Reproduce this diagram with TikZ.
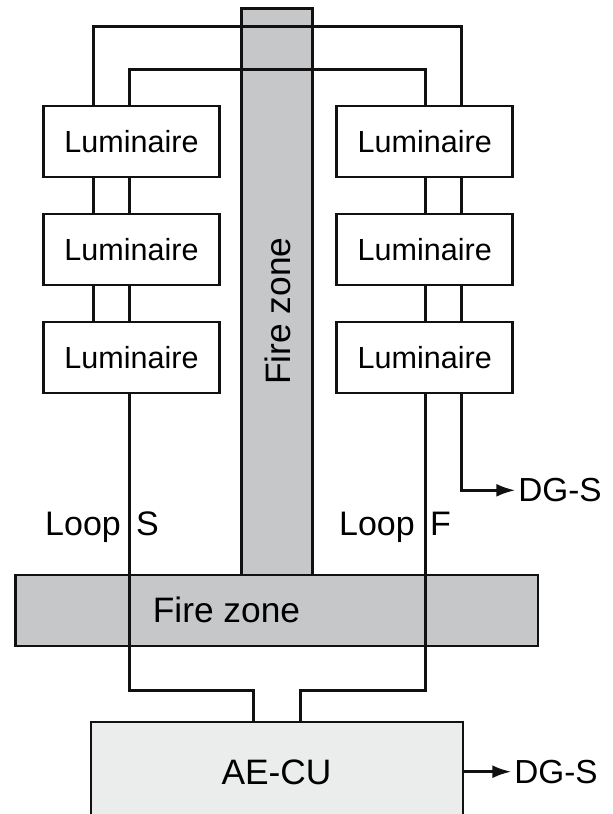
\documentclass[tikz,border=0pt]{standalone}
\usepackage{fontspec}
\setmainfont{Liberation Sans}
\usepackage{xcolor}
\usetikzlibrary{arrows.meta}
\definecolor{zonegray}{HTML}{C6C7C9}
\definecolor{cugray}{HTML}{EBEDEC}
\definecolor{wire}{HTML}{111111}

\begin{document}
\begin{tikzpicture}[
    x=0.75pt,y=-0.75pt,
    lum/.style={draw=wire, line width=2pt, fill=white, minimum width=132pt, minimum height=53.25pt, inner sep=0pt, font=\fontsize{22.9}{27}\selectfont},
    zone/.style={draw=wire, line width=2pt, fill=zonegray, inner sep=0pt},
    lab/.style={font=\fontsize{26.5}{30}\selectfont, inner sep=0pt, text=black},
    loop/.style={font=\fontsize{25.5}{30}\selectfont, inner sep=0pt, text=black, anchor=base},
    dg/.style={font=\fontsize{25}{30}\selectfont, inner sep=0pt, text=black, anchor=west},
    w/.style={draw=wire, line width=2pt},
    a/.style={w, -{Latex[length=5mm,width=3.4mm]}}
]
\useasboundingbox (0,0) rectangle (613,814);

% Fire zones
\node[zone, minimum width=53.5pt, minimum height=425pt] (zoneV) at (277,291.5) {};
\node[zone, minimum width=392pt, minimum height=53.25pt] (zoneH) at (276.5,610.5) {};
\node[lab, rotate=90, anchor=base] (zoneVt) at (290,311) {Fire zone};
\node[lab, anchor=base] (zoneHt) at (226.5,622) {Fire zone};

% Left column
\node[lum] (lumLa) at (131.5,141.5) {Luminaire};
\node[lum] (lumLb) at (131.5,249.5) {Luminaire};
\node[lum] (lumLc) at (131.5,357.5) {Luminaire};

% Right column
\node[lum] (lumRa) at (424.75,141.5) {Luminaire};
\node[lum] (lumRb) at (424.75,249.5) {Luminaire};
\node[lum] (lumRc) at (424.75,357.5) {Luminaire};

% Control unit
\node[draw=wire, line width=2pt, fill=cugray, minimum width=279pt, minimum height=82.5pt, inner sep=0pt] (cu) at (277,777) {};
\node[lab, anchor=base] (cut) at (276.5,784) {AE-CU};

% Wire corners
\coordinate (outL) at (93.7,26.7);
\coordinate (outR) at (461.3,26.7);
\coordinate (innL) at (129.7,69.5);
\coordinate (innR) at (425.3,69.5);
\coordinate (botL) at (129.7,690.3);
\coordinate (botR) at (425.3,690.3);
\coordinate (cuL) at (253.3,690.3);
\coordinate (cuR) at (300.3,690.3);

% Labels
\node[loop] (loopS) at (102,535.5) {Loop\hspace{0.45em}S};
\node[loop] (loopF) at (395,535.5) {Loop\hspace{0.45em}F};
\node[dg] (dgA) at (518,490.3) {DG-S};
\node[dg] (dgB) at (514,771.7) {DG-S};

% Ring over the top
\draw[w] (outL |- lumLa.north) -- (outL) -- (outR) -- (outR |- lumRa.north);
\draw[w] (innL |- lumLa.north) -- (innL) -- (innR) -- (innR |- lumRa.north);

% Links between luminaires
\draw[w] (outL |- lumLa.south) -- (outL |- lumLb.north);
\draw[w] (innL |- lumLa.south) -- (innL |- lumLb.north);
\draw[w] (outL |- lumLb.south) -- (outL |- lumLc.north);
\draw[w] (innL |- lumLb.south) -- (innL |- lumLc.north);
\draw[w] (innR |- lumRa.south) -- (innR |- lumRb.north);
\draw[w] (outR |- lumRa.south) -- (outR |- lumRb.north);
\draw[w] (innR |- lumRb.south) -- (innR |- lumRc.north);
\draw[w] (outR |- lumRb.south) -- (outR |- lumRc.north);

% Loops down to the control unit
\draw[w] (innL |- lumLc.south) -- (botL) -- (cuL) -- (cuL |- cu.north);
\draw[w] (innR |- lumRc.south) -- (botR) -- (cuR) -- (cuR |- cu.north);

% Outputs
\draw[a] (outR |- lumRc.south) |- ([xshift=-2pt]dgA.west);
\draw[a] (cu.east |- dgB) -- ([xshift=-2pt]dgB.west);
\end{tikzpicture}
\end{document}
